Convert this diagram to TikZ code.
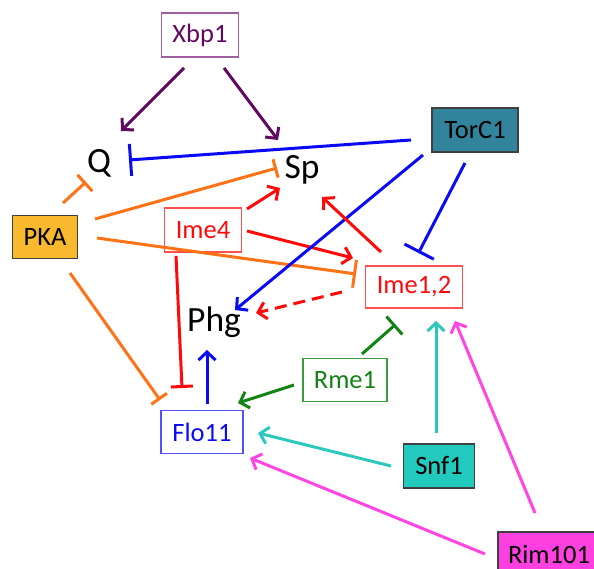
\documentclass[tikz,border=0pt]{standalone}
\usepackage{fontspec}
\setmainfont{Carlito}
\usetikzlibrary{arrows.meta}
\definecolor{purp}{HTML}{600A60}
\definecolor{purpb}{HTML}{A060A0}
\definecolor{blu}{HTML}{0A0AF5}
\definecolor{blub}{HTML}{5050FF}
\definecolor{ora}{HTML}{FF7215}
\definecolor{rd}{HTML}{FF0A0A}
\definecolor{rdb}{HTML}{FF5050}
\definecolor{grn}{HTML}{148214}
\definecolor{grnb}{HTML}{3C9A3C}
\definecolor{turq}{HTML}{2CC8BE}
\definecolor{turqf}{HTML}{22C9BD}
\definecolor{mag}{HTML}{FF45E2}
\definecolor{magf}{HTML}{FF40E0}
\definecolor{torc}{HTML}{31849B}
\definecolor{pkaf}{HTML}{F9B92F}
\tikzset{
  box/.style={draw, line width=1.5pt, inner sep=0pt, font=\fontsize{26.5}{30}\selectfont},
  fbox/.style={box, draw=black!75},
  big/.style={inner sep=0pt, font=\fontsize{35.5}{42}\selectfont},
  edge/.style={line width=3pt},
  act/.style={edge, -{Straight Barb[length=8pt,width=17pt]}},
  inh/.style={edge, -{Bar[width=#1]}},
  inh/.default=24pt
}
\begin{document}
\begin{tikzpicture}[x=1pt,y=-1pt]
\useasboundingbox (0,0) rectangle (594,569);
% nodes
\node[box, draw=purpb, text=purp, minimum width=77pt, minimum height=44pt] (Xbp1) at (200,35) {Xbp1};
\node[big] (Q) at (99,163) {Q};
\node[big] (Sp) at (302,170) {Sp};
\node[fbox, fill=pkaf, minimum width=65pt, minimum height=43pt] (PKA) at (45,237) {PKA};
\node[box, draw=rdb, text=rd, minimum width=77pt, minimum height=44pt] (Ime4) at (203,230) {Ime4};
\node[fbox, fill=torc, minimum width=86pt, minimum height=44pt] (TorC1) at (475,130) {TorC1};
\node[box, draw=rdb, text=rd, minimum width=97pt, minimum height=42pt] (Ime12) at (414,287) {Ime1,2};
\node[big] (Phg) at (214,322) {Phg};
\node[box, draw=grnb, text=grn, minimum width=84pt, minimum height=43pt] (Rme1) at (345,380) {Rme1};
\node[box, draw=blub, text=blu, minimum width=82pt, minimum height=43pt] (Flo11) at (202,432) {Flo11};
\node[fbox, fill=turqf, minimum width=71pt, minimum height=44pt] (Snf1) at (439,466) {Snf1};
\node[fbox, fill=magf, minimum width=102pt, minimum height=44pt] (Rim101) at (549,554) {Rim101};
% connectors
\draw[act, purp] ([shift={(-16,33)}]Xbp1.center) -- ([shift={(22,-32)}]Q.center);
\draw[act, purp] ([shift={(24,33)}]Xbp1.center) -- ([shift={(-24,-30)}]Sp.center);
\draw[inh=32pt, blu] ([shift={(-64,10)}]TorC1.center) -- ([shift={(30,-3)}]Q.center);
\draw[inh=22pt, ora] ([shift={(18,-34)}]PKA.center) -- ([shift={(-13,19)}]Q.center);
\draw[inh=19pt, ora] ([shift={(50,-18)}]PKA.center) -- ([shift={(-25,-2)}]Sp.center);
\draw[act, rd] ([shift={(44,-21)}]Ime4.center) -- ([shift={(-22,18)}]Sp.center);
\draw[act, rd] ([shift={(44,1)}]Ime4.center) -- ([shift={(-61,-29)}]Ime12.center);
\draw[inh=28pt, ora] ([shift={(52,1)}]PKA.center) -- ([shift={(-58,-13)}]Ime12.center);
\draw[act, blu] ([shift={(-52,25)}]TorC1.center) -- ([shift={(21,-12)}]Phg.center);
\draw[inh=33pt, blu] ([shift={(-10,33)}]TorC1.center) -- ([shift={(4.5,-34)}]Ime12.center);
\draw[act, rd] ([shift={(-33,-35)}]Ime12.center) -- ([shift={(20,27)}]Sp.center);
\draw[act, rd, dash pattern=on 12pt off 7pt] ([shift={(-72,5)}]Ime12.center) -- ([shift={(42,-9)}]Phg.center);
\draw[inh=22pt, rd] ([shift={(-27,26)}]Ime4.center) -- ([shift={(-20,-44)}]Flo11.center);
\draw[inh=19pt, ora] ([shift={(25,36)}]PKA.center) -- ([shift={(-42,-32)}]Flo11.center);
\draw[act, blu] ([shift={(5,-28)}]Flo11.center) -- ([shift={(-7,28)}]Phg.center);
\draw[inh=24pt, grn] ([shift={(17,-26)}]Rme1.center) -- ([shift={(-18.5,37.5)}]Ime12.center);
\draw[act, grn] ([shift={(-51,5)}]Rme1.center) -- ([shift={(36,-29)}]Flo11.center);
\draw[act, turq] ([shift={(-3,-33)}]Snf1.center) -- ([shift={(22,34)}]Ime12.center);
\draw[act, turq] ([shift={(-48,0)}]Snf1.center) -- ([shift={(56,1)}]Flo11.center);
\draw[act, mag] ([shift={(-14,-41)}]Rim101.center) -- ([shift={(41,34)}]Ime12.center);
\draw[act, mag] ([shift={(-64,0)}]Rim101.center) -- ([shift={(48,26)}]Flo11.center);
\end{tikzpicture}
\end{document}
